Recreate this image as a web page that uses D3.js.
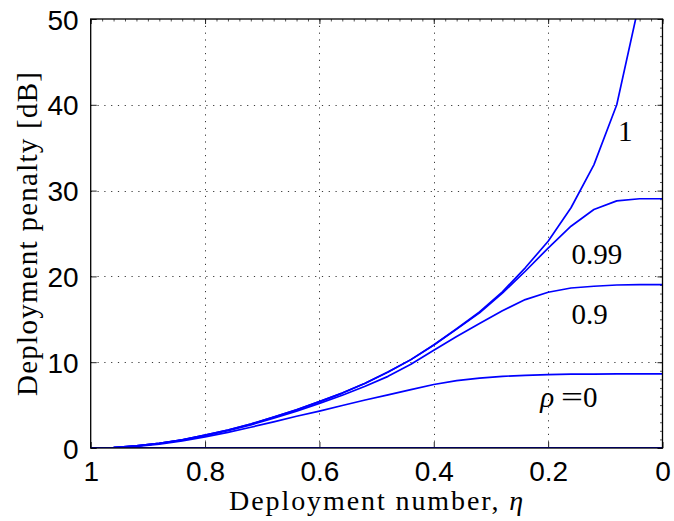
<!DOCTYPE html>
<html>
<head>
<meta charset="utf-8">
<script src="https://cdn.jsdelivr.net/npm/d3@7"></script>
<style>
  html, body { margin: 0; padding: 0; background: #fff; }
  svg { display: block; }
</style>
</head>
<body>
<svg id="chart" width="674" height="521"></svg>
<script>
// Deployment number (x axis runs from 1 down to 0)
const eta = [1, 0.96, 0.92, 0.88, 0.84, 0.8, 0.76, 0.72, 0.68, 0.64, 0.6, 0.56, 0.52,
             0.48, 0.44, 0.4, 0.36, 0.32, 0.28, 0.24, 0.2, 0.16, 0.12, 0.08, 0.04, 0];

// Deployment penalty [dB] for each correlation value rho
const penaltyRho1   = [0, 0.06, 0.25, 0.55, 0.95, 1.5, 2.1, 2.8, 3.6, 4.45, 5.4, 6.4, 7.55,
                       8.85, 10.3, 12.0, 13.9, 15.85, 18.2, 21.0, 24.1, 28.0, 33.0, 40.0, 52.1, null];
const penaltyRho099 = [0, 0.06, 0.25, 0.55, 0.95, 1.5, 2.1, 2.8, 3.6, 4.45, 5.4, 6.4, 7.55,
                       8.85, 10.3, 12.0, 13.85, 15.75, 18.05, 20.6, 23.3, 25.85, 27.8, 28.8, 29.05, 29.05];
const penaltyRho09  = [0, 0.06, 0.24, 0.53, 0.92, 1.45, 2.03, 2.7, 3.47, 4.3, 5.2, 6.15, 7.2,
                       8.35, 9.75, 11.4, 13.0, 14.5, 16.0, 17.3, 18.15, 18.65, 18.85, 19.0, 19.05, 19.05];
const penaltyRho0   = [0, 0.05, 0.2, 0.45, 0.82, 1.3, 1.83, 2.42, 3.05, 3.7, 4.3, 4.95, 5.6,
                       6.2, 6.8, 7.4, 7.85, 8.15, 8.35, 8.47, 8.55, 8.6, 8.62, 8.65, 8.65, 8.65];

// Zero-penalty reference line
const baselineEta = [1, 0];
const baselineVals = [0, 0];

const seriesLabels = ["1", "0.99", "0.9", "0"];

const xTicks = [1, 0.8, 0.6, 0.4, 0.2, 0];
const xTickLabels = ["1", "0.8", "0.6", "0.4", "0.2", "0"];
const yTicks = [0, 10, 20, 30, 40, 50];
const yTickLabels = ["0", "10", "20", "30", "40", "50"];

const xTitle = "Deployment number, ";
const xTitleSymbol = "η";
const yTitle = "Deployment penalty [dB]";

// ---- layout ----
const svg = d3.select("#chart");
const plotL = 90.7, plotR = 662.5, plotT = 19, plotB = 448;

const x = d3.scaleLinear().domain([1, 0]).range([plotL, plotR]);
const y = d3.scaleLinear().domain([0, 50]).range([plotB, plotT]);

const BLUE = "#0000ff";
const SANS = "'Liberation Sans', Arial, Helvetica, sans-serif";
const SERIF = "'Liberation Serif', 'Times New Roman', serif";

svg.append("defs").append("clipPath").attr("id", "plot-clip")
  .append("rect").attr("x", plotL).attr("y", plotT)
  .attr("width", plotR - plotL).attr("height", plotB - plotT);

// Dotted grid
const grid = svg.append("g").attr("stroke", "#3a3a3a").attr("stroke-width", 1)
  .attr("stroke-dasharray", "1.2 5.6").attr("fill", "none");
grid.selectAll(".gx").data(xTicks.filter(d => d !== 1 && d !== 0)).join("line")
  .attr("x1", d => Math.round(x(d)) + 0.5).attr("x2", d => Math.round(x(d)) + 0.5)
  .attr("y1", plotT).attr("y2", plotB);
grid.selectAll(".gy").data(yTicks.filter(d => d !== 0 && d !== 50)).join("line")
  .attr("y1", d => Math.round(y(d)) + 0.5).attr("y2", d => Math.round(y(d)) + 0.5)
  .attr("x1", plotL).attr("x2", plotR);

// Axes: tick marks point inward, labels outside
const xAxis = d3.axisBottom(x).tickValues(xTicks)
  .tickFormat((d, i) => xTickLabels[i]).tickSizeInner(-6).tickSizeOuter(0).tickPadding(13);
const gx = svg.append("g").attr("transform", `translate(0,${plotB})`).call(xAxis);
gx.select(".domain").remove();
gx.selectAll("text").attr("font-family", SANS).attr("font-size", 28).attr("fill", "#000");
gx.selectAll("line").attr("stroke", "#222");

const yAxis = d3.axisLeft(y).tickValues(yTicks)
  .tickFormat((d, i) => yTickLabels[i]).tickSizeInner(-6).tickSizeOuter(0).tickPadding(12);
const gy = svg.append("g").attr("transform", `translate(${plotL},0)`).call(yAxis);
gy.select(".domain").remove();
gy.selectAll("text").attr("font-family", SANS).attr("font-size", 28).attr("fill", "#000")
  .attr("dy", "0.36em");
gy.selectAll("line").attr("stroke", "#222");

// Mirrored ticks on top and right edges, with short minor ticks
const gTopMinor = svg.append("g").attr("transform", `translate(0,${plotT})`)
  .call(d3.axisTop(x).ticks(50).tickSizeInner(-2.5).tickSizeOuter(0).tickFormat(""));
gTopMinor.select(".domain").remove();
gTopMinor.selectAll("line").attr("stroke", "#555");
const gRightMinor = svg.append("g").attr("transform", `translate(${plotR},0)`)
  .call(d3.axisRight(y).ticks(50).tickSizeInner(-2.5).tickSizeOuter(0).tickFormat(""));
gRightMinor.select(".domain").remove();
gRightMinor.selectAll("line").attr("stroke", "#555");

const gTop = svg.append("g").attr("transform", `translate(0,${plotT})`)
  .call(d3.axisTop(x).tickValues(xTicks).tickSizeInner(-5).tickSizeOuter(0).tickFormat(""));
gTop.select(".domain").remove();
gTop.selectAll("line").attr("stroke", "#222");
const gRight = svg.append("g").attr("transform", `translate(${plotR},0)`)
  .call(d3.axisRight(y).tickValues(yTicks).tickSizeInner(-5).tickSizeOuter(0).tickFormat(""));
gRight.select(".domain").remove();
gRight.selectAll("line").attr("stroke", "#222");

// Curves
const line = d3.line()
  .defined(d => d[1] !== null)
  .x(d => x(d[0])).y(d => y(d[1]));

const curves = [penaltyRho1, penaltyRho099, penaltyRho09, penaltyRho0];
const plot = svg.append("g").attr("clip-path", "url(#plot-clip)");
plot.append("path")
  .datum(baselineEta.map((e, i) => [e, baselineVals[i]]))
  .attr("d", line).attr("fill", "none").attr("stroke", BLUE).attr("stroke-width", 2.2);
plot.selectAll(".curve").data(curves).join("path")
  .attr("class", "curve")
  .attr("d", vals => line(eta.map((e, i) => [e, vals[i]])))
  .attr("fill", "none").attr("stroke", BLUE).attr("stroke-width", 1.7)
  .attr("stroke-linejoin", "round");

// Frame
svg.append("rect").attr("x", plotL).attr("y", plotT)
  .attr("width", plotR - plotL).attr("height", plotB - plotT)
  .attr("fill", "none").attr("stroke", "#000").attr("stroke-width", 1.3);

// Curve annotations (anchor in data coordinates)
const labelAnchors = [
  { eta: 0.078, val: 35.8 },
  { eta: 0.159, val: 21.45 },
  { eta: 0.159, val: 14.45 },
  { eta: 0.214, val: 4.81 }
];
const ann = svg.append("g").attr("font-family", SERIF).attr("font-size", 29).attr("fill", "#000");
labelAnchors.forEach((a, i) => {
  const t = ann.append("text").attr("x", x(a.eta)).attr("y", y(a.val));
  if (i === 3) {
    t.append("tspan").attr("font-style", "italic").text("ρ");
    t.append("tspan").attr("dx", 7).attr("textLength", 22)
      .attr("lengthAdjust", "spacingAndGlyphs").text("=");
    t.append("tspan").text(seriesLabels[i]);
  } else {
    t.text(seriesLabels[i]);
  }
});

// Axis titles
const xt = svg.append("text")
  .attr("x", (plotL + plotR) / 2 - 0.5).attr("y", 510)
  .attr("text-anchor", "middle")
  .attr("textLength", 294).attr("lengthAdjust", "spacing")
  .attr("font-family", SERIF).attr("font-size", 28).attr("fill", "#000");
xt.append("tspan").text(xTitle);
xt.append("tspan").attr("font-style", "italic").text(xTitleSymbol);

svg.append("text")
  .attr("transform", `translate(36.5,234) rotate(-90)`)
  .attr("text-anchor", "middle")
  .attr("textLength", 324).attr("lengthAdjust", "spacing")
  .attr("font-family", SERIF).attr("font-size", 29).attr("fill", "#000")
  .text(yTitle);
</script>
</body>
</html>
